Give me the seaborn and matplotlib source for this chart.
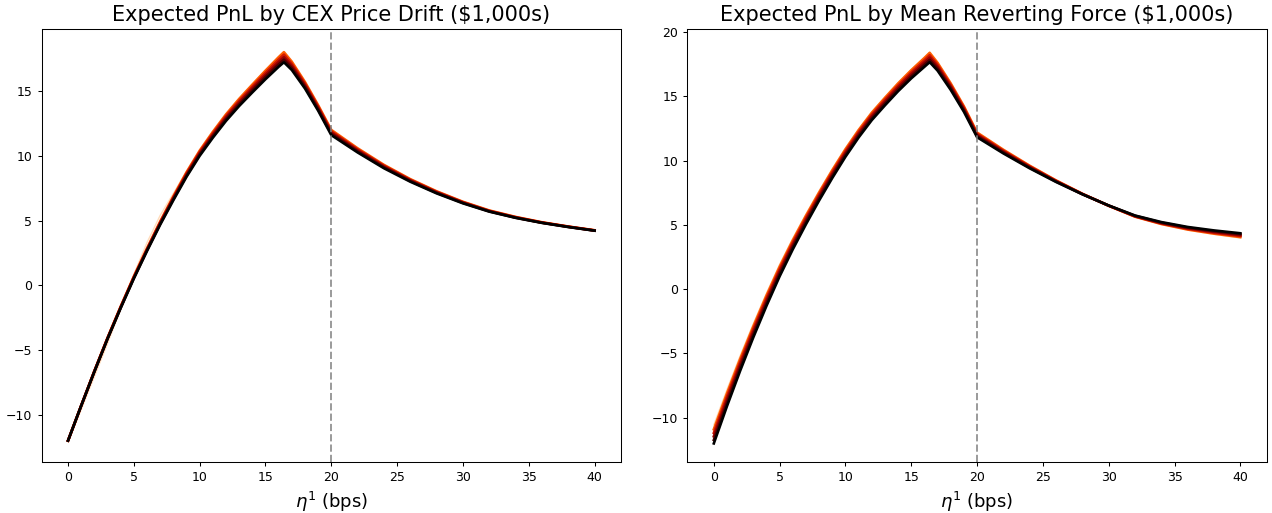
import matplotlib
matplotlib.use("Agg")
import matplotlib.pyplot as plt
import seaborn as sns
import pandas as pd

# ---------------- data ----------------
eta_bps = [0, 1, 2, 3, 4, 5, 6, 7, 8, 9, 10, 11, 12, 13, 14, 15, 16, 16.4,
           17, 18, 19, 20, 22, 24, 26, 28, 30, 32, 34, 36, 38, 40]

# Left panel: Expected PnL by CEX price drift ($1,000s)
drift_black = [-12.0, -9.31, -6.68, -4.14, -1.76, 0.52, 2.65, 4.68, 6.57, 8.38, 10.0, 11.40,
               12.70, 13.85, 14.90, 15.92, 16.88, 17.23, 16.63, 15.20, 13.49, 11.60, 10.26,
               9.04, 8.00, 7.10, 6.33, 5.69, 5.21, 4.82, 4.50, 4.22]
drift_dark = [-12.0, -9.30, -6.66, -4.12, -1.73, 0.56, 2.70, 4.74, 6.65, 8.46, 10.1, 11.51,
              12.83, 13.98, 15.05, 16.09, 17.07, 17.43, 16.79, 15.33, 13.60, 11.70, 10.34,
              9.11, 8.05, 7.14, 6.36, 5.71, 5.22, 4.83, 4.51, 4.22]
drift_mid = [-12.0, -9.30, -6.65, -4.10, -1.70, 0.60, 2.75, 4.80, 6.72, 8.55, 10.2, 11.62,
             12.95, 14.12, 15.20, 16.25, 17.25, 17.62, 16.95, 15.45, 13.70, 11.80, 10.42,
             9.17, 8.10, 7.18, 6.39, 5.73, 5.24, 4.84, 4.52, 4.23]
drift_red = [-12.0, -9.30, -6.64, -4.08, -1.67, 0.64, 2.80, 4.86, 6.80, 8.64, 10.3, 11.73,
             13.08, 14.26, 15.35, 16.42, 17.44, 17.82, 17.11, 15.58, 13.81, 11.90, 10.50,
             9.24, 8.15, 7.22, 6.42, 5.75, 5.26, 4.85, 4.53, 4.24]
drift_orange = [-12.0, -9.29, -6.62, -4.06, -1.64, 0.68, 2.85, 4.93, 6.87, 8.73, 10.4, 11.85,
                13.20, 14.40, 15.50, 16.58, 17.62, 18.01, 17.27, 15.70, 13.91, 12.00, 10.58,
                9.30, 8.20, 7.26, 6.45, 5.78, 5.28, 4.87, 4.54, 4.25]
drift_light = [-12.1, -9.6, -7.05, -4.5, -1.85, 0.85, 3.3, 5.4, 7.1, 8.8, 10.42, 11.87,
               13.22, 14.42, 15.52, 16.6, 17.64, 18.03, 17.29, 15.72, 13.93, 12.02, 10.6,
               9.32, 8.22, 7.28, 6.47, 5.8, 5.3, 4.88, 4.55, 4.26]

# Right panel: Expected PnL by mean reverting force ($1,000s)
mr_black = [-12.0, -9.1, -6.35, -3.75, -1.3, 1.0, 3.1, 5.05, 6.9, 8.65, 10.3, 11.8,
            13.15, 14.3, 15.4, 16.4, 17.3, 17.66, 17.0, 15.5, 13.8, 11.82, 10.56,
            9.40, 8.34, 7.38, 6.51, 5.73, 5.22, 4.84, 4.57, 4.35]
mr_dark = [-11.73, -8.85, -6.12, -3.54, -1.1, 1.19, 3.28, 5.22, 7.06, 8.8, 10.45, 11.94,
           13.29, 14.45, 15.55, 16.56, 17.47, 17.84, 17.15, 15.63, 13.91, 11.91, 10.63,
           9.45, 8.37, 7.39, 6.50, 5.71, 5.18, 4.79, 4.51, 4.28]
mr_mid = [-11.45, -8.6, -5.89, -3.33, -0.9, 1.38, 3.45, 5.38, 7.21, 8.95, 10.59, 12.09,
          13.44, 14.59, 15.7, 16.72, 17.64, 18.02, 17.3, 15.75, 14.01, 12.0, 10.70,
          9.50, 8.40, 7.40, 6.50, 5.68, 5.14, 4.74, 4.45, 4.20]
mr_red = [-11.18, -8.35, -5.66, -3.11, -0.7, 1.56, 3.63, 5.55, 7.37, 9.1, 10.74, 12.23,
          13.58, 14.74, 15.85, 16.87, 17.81, 18.2, 17.45, 15.88, 14.12, 12.09, 10.77,
          9.55, 8.43, 7.41, 6.49, 5.66, 5.11, 4.69, 4.38, 4.13]
mr_orange = [-10.9, -8.1, -5.43, -2.9, -0.5, 1.75, 3.8, 5.71, 7.52, 9.25, 10.88, 12.37,
             13.72, 14.88, 16.0, 17.03, 17.98, 18.38, 17.6, 16.0, 14.22, 12.18, 10.84,
             9.60, 8.46, 7.42, 6.49, 5.64, 5.07, 4.64, 4.32, 4.05]
mr_light = [-10.55, -7.8, -5.17, -2.68, -0.3, 1.93, 3.96, 5.85, 7.65, 9.36, 10.98, 12.46,
            13.8, 14.96, 16.08, 17.1, 18.05, 18.45, 17.67, 16.06, 14.27, 12.23, 10.88,
            9.63, 8.48, 7.43, 6.48, 5.61, 5.03, 4.59, 4.26, 3.98]

curve_names = ["light", "orange", "red", "mid", "dark", "black"]
left_title = "Expected PnL by CEX Price Drift (\\$1,000s)"
right_title = "Expected PnL by Mean Reverting Force (\\$1,000s)"
x_label = r"$\eta^1$ (bps)"
threshold_bps = 20

# ---------------- styling ----------------
cmap = matplotlib.colormaps["gist_heat"]
cmap_pos = {"light": 0.93, "orange": 0.68, "red": 0.55, "mid": 0.40, "dark": 0.20, "black": 0.0}
palette = {k: cmap(v) for k, v in cmap_pos.items()}
widths = {"light": 1.0, "orange": 1.9, "red": 1.9, "mid": 1.9, "dark": 1.9, "black": 1.9}


def long_frame(series):
    rows = []
    for name, vals in series.items():
        for xv, yv in zip(eta_bps, vals):
            rows.append({"eta": xv, "pnl": yv, "curve": name})
    return pd.DataFrame(rows)


left_df = long_frame({"light": drift_light, "orange": drift_orange, "red": drift_red,
                      "mid": drift_mid, "dark": drift_dark, "black": drift_black})
right_df = long_frame({"light": mr_light, "orange": mr_orange, "red": mr_red,
                       "mid": mr_mid, "dark": mr_dark, "black": mr_black})

fig, axes = plt.subplots(1, 2, figsize=(12.72, 5.13), dpi=100)
fig.subplots_adjust(left=0.0328, right=0.9958, bottom=0.100, top=0.9425, wspace=0.115)

for ax, df, title, ylim in [(axes[0], left_df, left_title, (-13.63, 19.76)),
                            (axes[1], right_df, right_title, (-13.42, 20.2))]:
    for name in curve_names:
        sub = df[df["curve"] == name]
        sns.lineplot(data=sub, x="eta", y="pnl", color=palette[name],
                     linewidth=widths[name], estimator=None, legend=False, ax=ax)
    ax.axvline(threshold_bps, color="gray", alpha=0.8, linestyle="--", linewidth=1.4)
    ax.set_title(title, fontsize=15)
    ax.set_xlabel(x_label, fontsize=13)
    ax.set_ylabel("")
    ax.set_xlim(-2, 42)
    ax.set_ylim(*ylim)
    ax.tick_params(labelsize=9, length=3.2, width=0.75)
    for sp in ax.spines.values():
        sp.set_linewidth(0.75)

fig.savefig("out.png", dpi=100)
